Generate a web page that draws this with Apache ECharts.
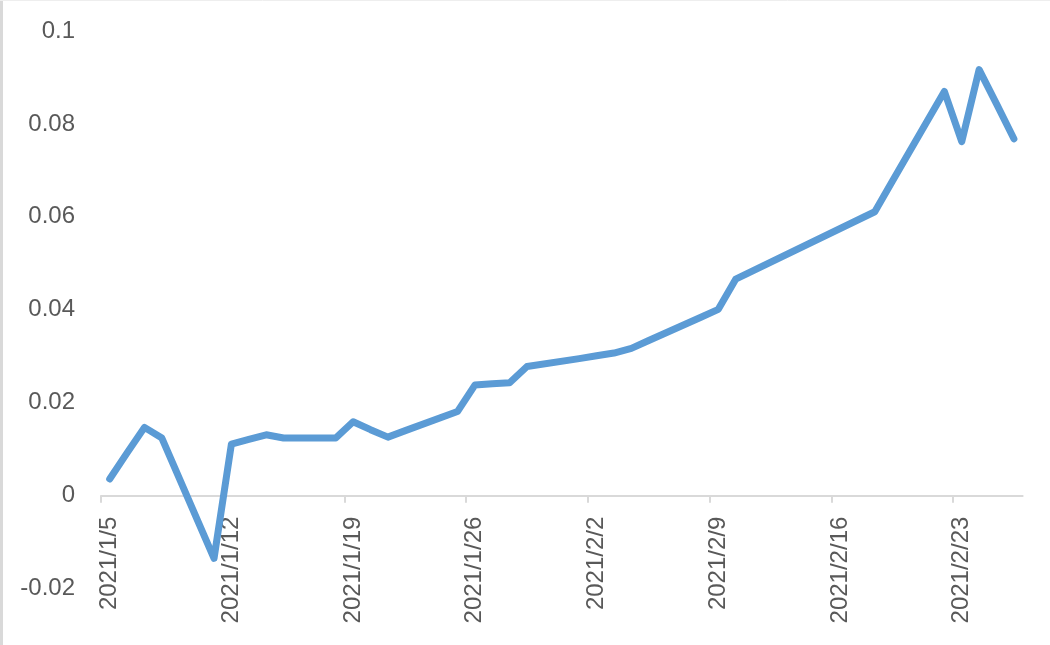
<!DOCTYPE html>
<html>
<head>
<meta charset="utf-8">
<script src="https://cdn.jsdelivr.net/npm/echarts@6/dist/echarts.min.js"></script>
<style>
  html, body { margin: 0; padding: 0; background: #ffffff; }
  #chart { width: 1050px; height: 645px; }
</style>
</head>
<body>
<div id="chart"></div>
<script>
// ---- data ----
const dates = ['2021/1/5','2021/1/6','2021/1/7','2021/1/8','2021/1/11','2021/1/12','2021/1/13','2021/1/14','2021/1/15',
  '2021/1/18','2021/1/19','2021/1/20','2021/1/21','2021/1/22','2021/1/25','2021/1/26','2021/1/27','2021/1/28','2021/1/29',
  '2021/2/1','2021/2/2','2021/2/3','2021/2/4','2021/2/5','2021/2/8','2021/2/9','2021/2/10','2021/2/18','2021/2/19',
  '2021/2/22','2021/2/23','2021/2/24','2021/2/25','2021/2/26'];
const values = [0.0036, 0.0092, 0.0147, 0.0124, -0.0135, 0.0111, 0.0121, 0.0131, 0.0124,
  0.0124, 0.0159, 0.0142, 0.0126, 0.0140, 0.0181, 0.0238, 0.0241, 0.0243, 0.0278,
  0.0295, 0.0301, 0.0307, 0.0317, 0.0334, 0.0384, 0.0401, 0.0466, 0.0611, 0.0676,
  0.0870, 0.0762, 0.0917, 0.0843, 0.0768];
const xTickLabels = ['2021/1/5','2021/1/12','2021/1/19','2021/1/26','2021/2/2','2021/2/9','2021/2/16','2021/2/23'];
const axisStart = '2021/1/5';
const axisEnd = '2021/2/27';
const yMin = -0.02, yMax = 0.1, yStep = 0.02;

// ---- helpers: date string -> day offset from axis start ----
function dayNum(s) {
  const p = s.split('/').map(Number);
  return Date.UTC(p[0], p[1] - 1, p[2]) / 86400000;
}
const d0 = dayNum(axisStart);
const xMax = dayNum(axisEnd) - d0;
const seriesData = dates.map((d, i) => [dayNum(d) - d0 + 0.5, values[i]]);
const tickVals = xTickLabels.map(d => dayNum(d) - d0);
const labelVals = tickVals.map(v => v + 0.5);
const labelMap = {};
xTickLabels.forEach((d, i) => { labelMap[labelVals[i]] = d; });

const gridTop = 31, gridBottom = 56.4;
const plotH = 645 - gridTop - gridBottom;
const zeroFromBottom = plotH * (0 - yMin) / (yMax - yMin); // distance of the y=0 line above the grid bottom

const chart = echarts.init(document.getElementById('chart'), null, { renderer: 'canvas' });
chart.setOption({
  animation: false,
  backgroundColor: '#ffffff',
  grid: { left: 101, right: 27.4, top: gridTop, bottom: gridBottom, containLabel: false, outerBoundsMode: 'none' },
  graphic: [
    { type: 'line', shape: { x1: 1.5, y1: 0, x2: 1.5, y2: 645 }, style: { stroke: '#d9d9d9', lineWidth: 3 } },
    { type: 'line', shape: { x1: 0, y1: 0.5, x2: 1050, y2: 0.5 }, style: { stroke: '#eeeeee', lineWidth: 1 } }
  ],
  xAxis: {
    type: 'value',
    min: 0,
    max: xMax,
    axisLine: { show: true, onZero: true, lineStyle: { color: '#d9d9d9', width: 2 } },
    axisTick: { show: true, customValues: tickVals, length: 7, lineStyle: { color: '#d9d9d9', width: 2 } },
    splitLine: { show: false },
    axisLabel: {
      customValues: labelVals,
      rotate: 90,
      margin: 21 - zeroFromBottom,
      color: '#595959',
      fontFamily: 'Liberation Sans',
      fontSize: 24,
      formatter: v => labelMap[v] || ''
    }
  },
  yAxis: {
    type: 'value',
    min: yMin,
    max: yMax,
    interval: yStep,
    axisLine: { show: false },
    axisTick: { show: false },
    splitLine: { show: false },
    axisLabel: {
      margin: 26,
      color: '#595959',
      fontFamily: 'Liberation Sans',
      fontSize: 24,
      formatter: v => String(Math.round(v * 1000) / 1000)
    }
  },
  series: [{
    type: 'line',
    data: seriesData,
    showSymbol: false,
    symbol: 'none',
    lineStyle: { color: '#5b9bd5', width: 7, cap: 'round', join: 'round' },
    itemStyle: { color: '#5b9bd5' }
  }]
});
</script>
</body>
</html>
